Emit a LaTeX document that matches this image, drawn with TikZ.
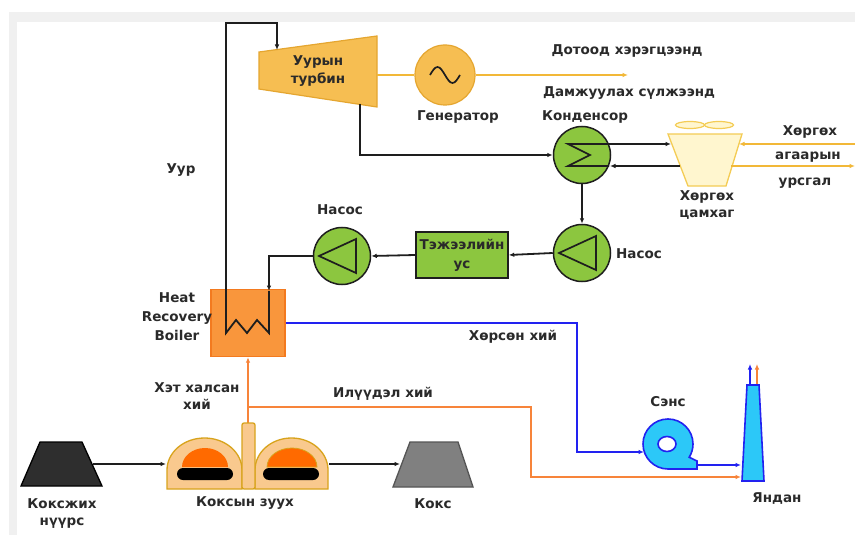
\documentclass[tikz,border=0pt]{standalone}
\usepackage{fontspec}
\setmainfont{DejaVu Sans}
\usetikzlibrary{arrows.meta}
\definecolor{ink}{HTML}{1E1E1E}
\definecolor{txtc}{HTML}{2A2A2A}
\definecolor{framegray}{HTML}{F0F0F0}
\definecolor{turbfill}{HTML}{F6BE52}
\definecolor{turbedge}{HTML}{E5A630}
\definecolor{yelline}{HTML}{F2B838}
\definecolor{grnfill}{HTML}{8CC63F}
\definecolor{boilfill}{HTML}{F9963C}
\definecolor{boiledge}{HTML}{F37A1F}
\definecolor{flue}{HTML}{F7843A}
\definecolor{bluel}{HTML}{2222F0}
\definecolor{cyanf}{HTML}{2CC8F8}
\definecolor{towerfill}{HTML}{FFF6CF}
\definecolor{toweredge}{HTML}{F4CC55}
\definecolor{ovenfill}{HTML}{F9C98E}
\definecolor{ovenedge}{HTML}{D8A31C}
\definecolor{ember}{HTML}{FF6A00}
\definecolor{coal}{HTML}{2E2E2E}
\definecolor{coke}{HTML}{808080}
\definecolor{cokeedge}{HTML}{555555}
\begin{document}
\begin{tikzpicture}[x=1pt,y=-1pt,
  txt/.style={font=\bfseries\fontsize{13.5}{17}\selectfont, text=txtc, align=center, inner sep=0pt},
  wire/.style={line width=1.8pt, draw=ink},
  head/.style={-{Latex[length=5.5pt,width=4.5pt]}},
  yline/.style={line width=2pt, draw=yelline},
  bline/.style={line width=2pt, draw=bluel},
  oline/.style={line width=2pt, draw=flue},
  disc/.style={circle, draw=ink, line width=1.5pt, fill=grnfill, minimum size=57pt, inner sep=0pt},
]
\useasboundingbox (0,0) rectangle (855,535);
% frame
\fill[framegray] (9,12) rectangle (855,535);
\fill[white] (17,22) rectangle (855,535);

% ---------- turbine and generator ----------
\draw[fill=turbfill, draw=turbedge, line width=1.2pt] (259,52) -- (377,36) -- (377,107) -- (259,89) -- cycle;
\node[txt, font=\bfseries\fontsize{13.5}{18}\selectfont] (turbine) at (318,71) {Уурын\\турбин};
\coordinate (turbIn) at (277,50);
\coordinate (turbOut) at (360,104);
\coordinate (turbShaft) at (377,75);

\node[circle, draw=turbedge, fill=turbfill, line width=1.2pt, minimum size=60pt, inner sep=0pt] (gen) at (445,75) {};
\draw[ink, line width=1.7pt] (430,75) sin (437.5,67) cos (445,75) sin (452.5,83) cos (460,75);
\node[txt] (genlbl) at (458,117) {Генератор};
\draw[yline] (turbShaft) -- (gen.west);
\coordinate (gridEnd) at (628,75);
\draw[yline, head] (gen.east) -- (gridEnd);
\node[txt] (selfuse) at (627,51) {Дотоод хэрэгцээнд};
\node[txt] (grid) at (629,93) {Дамжуулах сүлжээнд};

% ---------- condenser and cooling tower ----------
\node[txt] (condlbl) at (585,117) {Конденсор};
\node[disc] (cond) at (582,155) {};
\draw[ink, line width=1.7pt, line join=miter] (609,144) -- (568,144) -- (590,155) -- (568,166) -- (609,166);
\coordinate (condTop) at (609,144);
\coordinate (condBot) at (610,166);
\draw[wire, head] (turbOut) |- (cond.west);

\draw[fill=towerfill, draw=toweredge, line width=1.3pt] (668,134) -- (742,134) -- (726,186) -- (688,186) -- cycle;
\draw[fill=towerfill, draw=toweredge, line width=1.2pt] (690,125) ellipse[x radius=14.5pt, y radius=3.5pt];
\draw[fill=towerfill, draw=toweredge, line width=1.2pt] (719,125) ellipse[x radius=14.5pt, y radius=3.5pt];
\coordinate (twIn) at (671,144);
\coordinate (twOut) at (680,166);
\coordinate (airIn) at (739,144);
\coordinate (airOut) at (731,166);
\coordinate (airSrc) at (855,144);
\coordinate (airDst) at (855,166);
\draw[wire, head] (condTop) -- (twIn);
\draw[wire, head] (twOut) -- (condBot);
\draw[yline, head] (airSrc) -- (airIn);
\draw[yline, head] (airOut) -- (airDst);
\node[txt] (air1) at (810,132) {Хөргөх};
\node[txt] (air2) at (808,157) {агаарын};
\node[txt] (air3) at (805,183) {урсгал};
\node[txt] (towerlbl) at (707,205) {Хөргөх\\цамхаг};

% ---------- pumps and feed water ----------
\node[disc] (pumpA) at (582,253) {};
\draw[ink, line width=1.7pt, line join=miter] (559,253) -- (596,236) -- (596,270) -- cycle;
\node[txt] (pumpAlbl) at (639,254) {Насос};
\draw[wire, head] (cond.south) -- (pumpA.north);

\node[draw=ink, fill=grnfill, line width=1.5pt, minimum width=92pt, minimum height=46pt,
      txt, font=\bfseries\fontsize{13.5}{19}\selectfont] (feed) at (462,255) {Тэжээлийн\\ус};
\draw[wire, head] (pumpA.west) -- (feed.east);

\node[disc] (pumpB) at (342,256) {};
\draw[ink, line width=1.7pt, line join=miter] (319,256) -- (356,239) -- (356,273) -- cycle;
\node[txt] (pumpBlbl) at (340,210) {Насос};
\draw[wire, head] (feed.west) -- (pumpB.east);

% ---------- heat recovery boiler ----------
\node[draw=boiledge, fill=boilfill, line width=1.3pt, minimum width=74pt, minimum height=67pt, inner sep=0pt] (boiler) at (248,323) {};
\node[txt, font=\bfseries\fontsize{13.5}{19}\selectfont] (boilerlbl) at (177,317) {Heat\\Recovery\\Boiler};
\coordinate (coilIn) at (269,291);
\draw[wire, head] (pumpB.west) -| (coilIn);
\draw[wire, head, line join=miter] (coilIn) -- (269,333) -- (257,320) -- (247,333) -- (236,320) -- (226,333) -- (226,23) -| (turbIn);
\node[txt] (steamlbl) at (181,170) {Уур};

% ---------- flue gas path ----------
\coordinate (fanIn) at (644,452);
\coordinate (fanOut) at (697,465);
\draw[bline, head] (boiler.east) -| (577,452) -- (fanIn);
\node[txt] (coolgas) at (513,337) {Хөрсөн хий};

\draw[fill=cyanf, draw=bluel, line width=1.6pt] (697,461) -- (697,469) -- (668,469)
   arc[start angle=-90, end angle=-392, radius=25pt] -- cycle;
\draw[fill=white, draw=bluel, line width=1.6pt] (667,444) ellipse[x radius=9pt, y radius=7.5pt];
\node[txt] (fanlbl) at (668,402) {Сэнс};

\draw[fill=cyanf, draw=bluel, line width=1.6pt] (747,385) -- (759,385) -- (764,481) -- (742,481) -- cycle;
\coordinate (stackA) at (741,465);
\coordinate (stackB) at (741,477);
\coordinate (ventB0) at (750,384);
\coordinate (ventB1) at (750,364);
\coordinate (ventO0) at (757,384);
\coordinate (ventO1) at (757,364);
\draw[bline, head] (fanOut) -- (stackA);
\draw[bline, head] (ventB0) -- (ventB1);
\draw[oline, head] (ventO0) -- (ventO1);
\node[txt] (stacklbl) at (777,499) {Яндан};

% hot gas from the oven
\coordinate (chimTop) at (248,423);
\coordinate (branch) at (248,407);
\draw[oline, head] (chimTop) -- (boiler.south);
\draw[oline, head] (branch) -| (531,477) -- (stackB);
\node[txt] (hotgas) at (197,396.5) {Хэт халсан\\хий};
\node[txt] (excess) at (383,394) {Илүүдэл хий};

% ---------- coke oven ----------
\draw[fill=ovenfill, draw=ovenedge, line width=1.3pt] (167,489) -- (167,470)
   arc[start angle=180, end angle=0, x radius=37.5pt, y radius=32pt] -- (242,489) -- cycle;
\draw[fill=ovenfill, draw=ovenedge, line width=1.3pt] (255,489) -- (255,470)
   arc[start angle=180, end angle=0, x radius=36.5pt, y radius=32pt] -- (328,489) -- cycle;
\fill[ember] (182,467) arc[start angle=180, end angle=0, x radius=23pt, y radius=19pt] -- cycle;
\draw[fill=ember, draw=ovenedge, line width=0.8pt] (267,467) arc[start angle=180, end angle=0, x radius=25pt, y radius=19pt] -- cycle;
\fill[black, rounded corners=6pt] (177,468) rectangle (233,480);
\fill[black, rounded corners=6pt] (263,468) rectangle (319,480);
\draw[fill=ovenfill, draw=ovenedge, line width=1.3pt, rounded corners=2pt] (242,423) rectangle (255,489);
\coordinate (ovenL) at (166,464);
\coordinate (ovenR) at (329,464);
\node[txt] (ovenlbl) at (245,503) {Коксын зуух};

% coal in, coke out
\draw[fill=coal, draw=black, line width=1.3pt] (40,442) -- (82,442) -- (102,486) -- (21,486) -- cycle;
\node[txt] (coallbl) at (62,513.5) {Коксжих\\нүүрс};
\coordinate (coalR) at (93,464);
\draw[wire, head] (coalR) -- (ovenL);

\draw[fill=coke, draw=cokeedge, line width=1.3pt] (410,442) -- (458,442) -- (473,487) -- (393,487) -- cycle;
\node[txt] (cokelbl) at (433,504) {Кокс};
\coordinate (cokeL) at (400,464);
\draw[wire, head] (ovenR) -- (cokeL);
\end{tikzpicture}
\end{document}
